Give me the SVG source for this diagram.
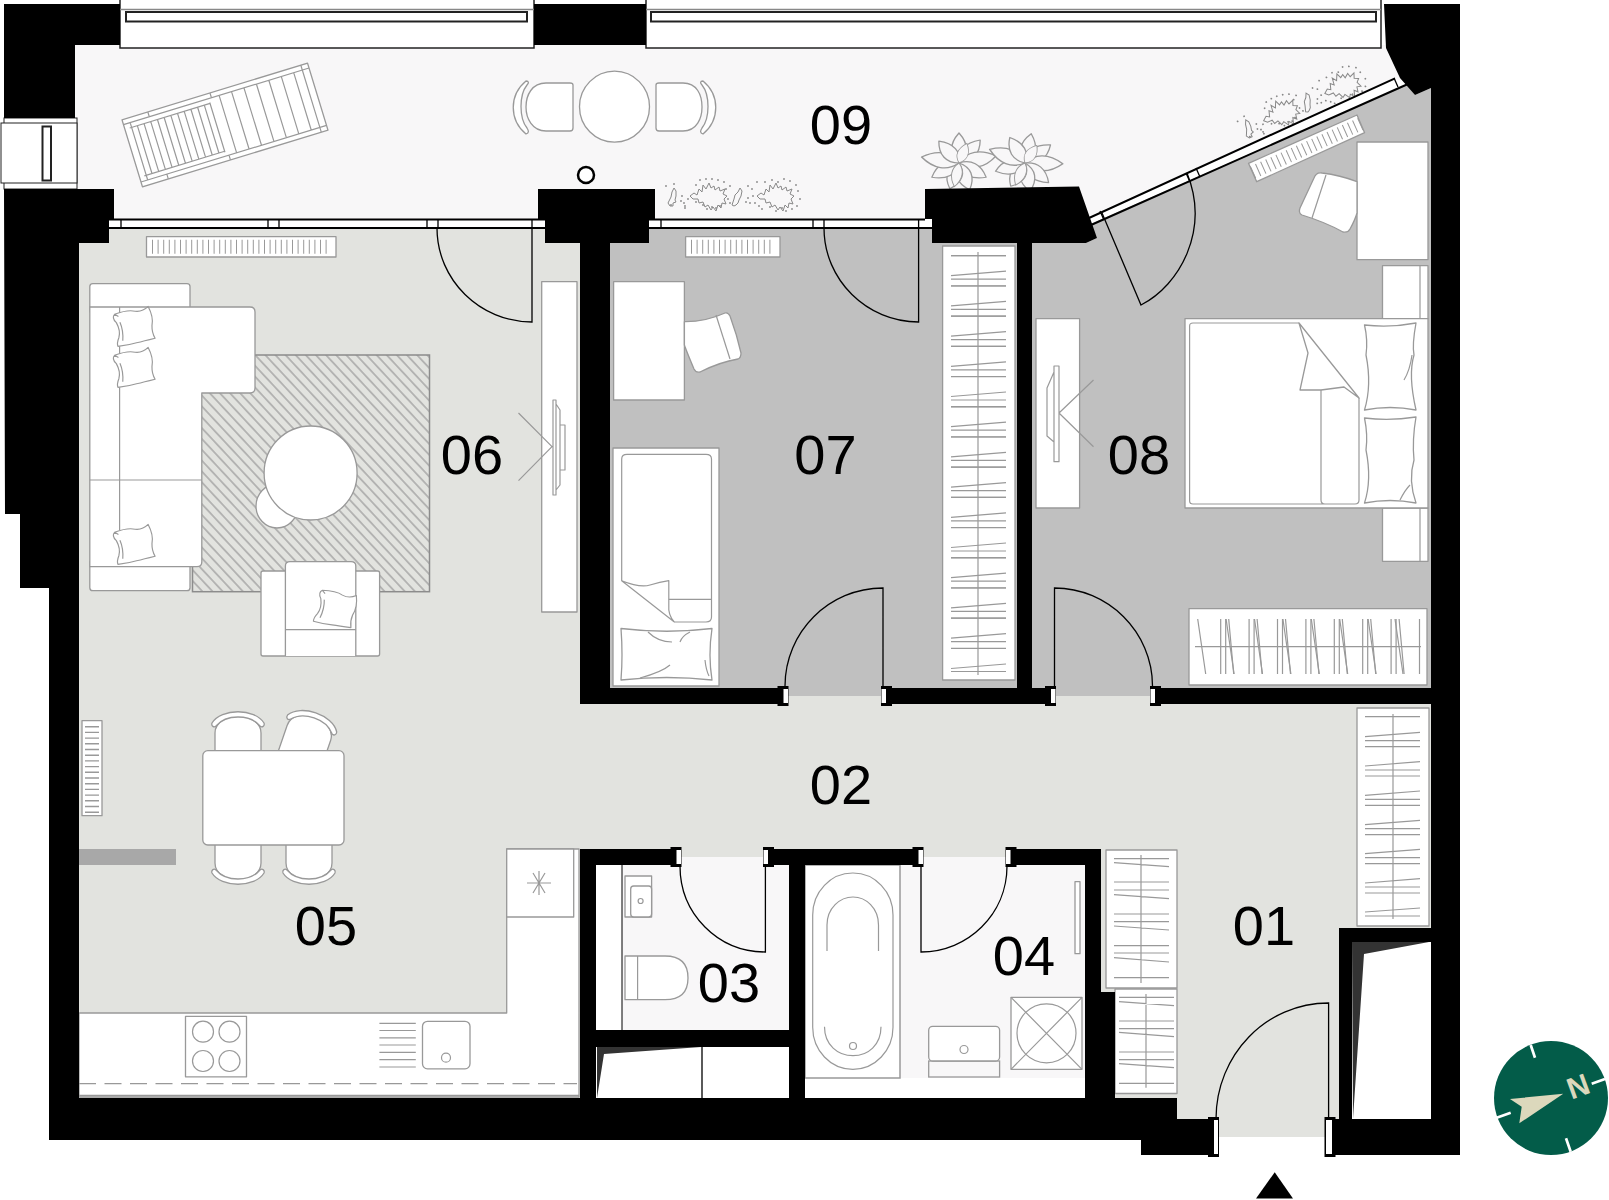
<svg xmlns="http://www.w3.org/2000/svg" xmlns:xlink="http://www.w3.org/1999/xlink" width="1609" height="1200" viewBox="0 0 1609 1200">
<style>
.f{fill:#fff;stroke:#999;stroke-width:1.3;stroke-linejoin:round}
.n{fill:none;stroke:#999;stroke-width:1.2;stroke-linejoin:round}
.w{fill:#000}
.d{fill:none;stroke:#000;stroke-width:1.3}
.s{fill:none;stroke:#000;stroke-width:2}
.h{fill:none;stroke:#999;stroke-width:1.2}
.t{fill:#000;font-family:"Liberation Sans",Arial,sans-serif;font-size:56px;text-anchor:middle}
</style>
<defs>
<pattern id="rug" width="7.4" height="7.4" patternUnits="userSpaceOnUse" patternTransform="rotate(47)"><rect width="7.4" height="7.4" fill="#e2e3df"/><line x1="0" y1="3.7" x2="7.4" y2="3.7" stroke="#999" stroke-width="1.200"/></pattern>
<path id="pillow" class="f" d="M-19,-16Q-4,-20 4,-17Q12,-15 19,-21Q24,-8 21,2Q20,10 23,17Q10,19 2,20Q-8,22 -19,22Q-20,18 -17,12Q-14,4 -18,-6Q-23,-12 -19,-16ZM-14,-6Q-11,4 -13,16M-19,-16L-15,-13"/>
<g id="jamb"><rect class="w" x="0" y="0" width="11" height="20"/><rect x="6" y="3" width="4.500" height="14" fill="#fff"/></g>
<g id="chair"><path class="f" d="M-23,10V-18C-23,-29 -11,-35 0,-35C11,-35 23,-29 23,-18V10"/><path class="f" d="M-26,-28C-17,-43 17,-43 26,-28C27,-25 24,-23 22,-25C12,-37 -12,-37 -22,-25C-24,-23 -27,-25 -26,-28Z"/></g>
<g id="ha"><path class="h" d="M951,0H1006M951,20L1006,15.500M951,23.500H1006M951,30.300H1006"/></g>
<g id="hc"><path class="h" d="M1365,0L1420,-4.300M1365,4H1420M1365,10H1420"/></g>
<g id="hd"><path class="h" d="M0,0L8,55M23,0V55M28,0V55M31,0L36,55"/></g>
<path id="petal" class="n" style="fill:#f8f7f8" d="M0,0C-9,-8 -9,-19 0,-30C9,-19 9,-8 0,0Z"/>
<g id="flower"><use href="#petal" transform="rotate(0) scale(1,1)"/><use href="#petal" transform="rotate(40) scale(1,1)"/><use href="#petal" transform="rotate(78) scale(1.1,1.15)"/><use href="#petal" transform="rotate(120) scale(1,.95)"/><use href="#petal" transform="rotate(160) scale(1,.95)"/><use href="#petal" transform="rotate(198) scale(1,.9)"/><use href="#petal" transform="rotate(240) scale(1,.95)"/><use href="#petal" transform="rotate(280) scale(1.1,1.15)"/><use href="#petal" transform="rotate(320) scale(1,.95)"/><use href="#petal" transform="rotate(20) scale(.7,.7)"/><use href="#petal" transform="rotate(190) scale(.7,.8)"/></g>
<g id="shrub"><path fill="none" stroke="#888" stroke-width="1" d="M-66,9l3,-6 1,-5 2,-4 2,3 0,5 -1,4 1,2 -3,1 0,3 -3,0zM-44,2l4,-3 3,2 2,-6 3,3 1,-7 3,4 3,-6 2,5 3,-2 1,4 4,-3 1,4 5,-2 -2,5 4,2 -3,3 2,5 -4,-1 -1,5 -3,-3 -2,6 -3,-4 -2,3 -3,-5 -3,2 -2,-5 -4,1 -1,-4 -5,0zM-2,11l2,-6 1,-4 3,-3 2,-4 2,3 -1,5 -2,4 -1,3 -2,2 -2,1zM23,2l4,-3 3,2 2,-6 3,3 1,-7 3,4 3,-6 2,5 3,-2 1,4 4,-3 1,4 5,-2 -2,5 4,2 -3,3 2,5 -4,-1 -1,5 -3,-3 -2,6 -3,-4 -2,3 -3,-5 -3,2 -2,-5 -4,1 -1,-4 -5,0z"/><path d="M-68,-8h0M-60,-10h0M-63,11h0M-52,2h0M-53,7h0M-50,9h0M-49,12h0M-46,5h0M-49,14h0M-38,-9h0M-34,-14h0M-28,-15h0M-22,-15h0M-16,-14h0M-10,-12h0M-8,-5h0M-4,-8h0M-6,5h0M-4,9h0M-14,12h0M-18,14h0M-22,13h0M-27,15h0M-31,11h0M-38,8h0M12,8h0M14,4h0M16,9h0M19,2h0M21,9h0M18,-5h0M14,-8h0M23,-12h0M25,12h0M28,15h0M31,-12h0M38,-14h0M44,-12h0M50,-15h0M56,-13h0M62,-9h0M64,-3h0M66,5h0M63,12h0M58,15h0M52,17h0M48,14h0M42,17h0M36,13h0" fill="none" stroke="#888" stroke-width="1.800" stroke-linecap="round"/></g>
</defs>
<rect width="1609" height="1200" fill="#fff"/>

<g id="room-09"><polygon fill="#f8f7f8" points="75,45 1386,45 1402,80 1085,222 1085,219 75,219"/>
<g id="lounger" transform="translate(225,125) rotate(-17)"><rect class="f" x="-97" y="-35" width="194" height="70"/><path class="n" d="M-97,-30H97M-97,30H97M90,-35V35M-90,-30V30M-8,-26V26M-92,-25H-8M-92,25H-8M-70,-35V-30M-70,30V35M-5,-35V-30M-5,30V35M3,-30V30M16,-30V30M29,-30V30M42,-30V30M55,-30V30M68,-30V30M81,-30V30M-84,-25V25M-77,-25V25M-70,-25V25M-63,-25V25M-56,-25V25M-49,-25V25M-42,-25V25M-35,-25V25M-28,-25V25M-21,-25V25M-14,-25V25"/></g>
<g id="balcony-set"><ellipse class="f" cx="614.500" cy="106.700" rx="35" ry="35.500"/><path class="f" d="M573,85V128Q573,131 570,131H546C532,131 526,118 526,107C526,95 532,83 546,83H570Q573,83 573,85Z"/><path class="f" d="M656,85V128Q656,131 659,131H683C697,131 702,118 702,107C702,95 697,83 683,83H659Q656,83 656,85Z"/><path class="f" d="M526,81C509,95 509,120 526,134C529,133 529,131 527,128C519,118 519,95 527,85C529,83 529,81 526,81Z"/><path class="f" d="M703,81C720,95 720,120 703,134C700,133 700,131 702,128C710,118 710,95 702,85C700,83 700,81 703,81Z"/></g>
<ellipse cx="586" cy="175" rx="8" ry="8" fill="#fff" stroke="#000" stroke-width="2.500"/>
<use href="#shrub" transform="translate(734,194)"/><use href="#shrub" transform="translate(1303,101) rotate(-24)"/>
<use href="#flower" transform="translate(959,163) scale(1.1,1)"/><use href="#flower" transform="translate(1025,163) rotate(12) scale(1.1,1)"/></g>

<g id="room-05-06"><rect x="79" y="228" width="501" height="870" fill="#e2e3df"/>
<path class="f" d="M79,1013H506.700V849H579V1097H79Z" stroke="#999"/>
<path class="f" d="M506.700,849H573.700V917H506.700Z"/>
<path class="n" d="M527,883H551M533,873L545,893M545,873L533,893M539,871V895"/>
<rect class="f" x="185.500" y="1016.300" width="61" height="60.500"/>
<circle class="n" cx="203" cy="1031.700" r="10.500"/><circle class="n" cx="229.500" cy="1031.700" r="10.500"/><circle class="n" cx="203" cy="1061" r="10.500"/><circle class="n" cx="229.500" cy="1061" r="10.500"/>
<rect class="f" x="422.500" y="1021.300" width="47.500" height="47.500" rx="5"/><circle class="n" cx="446" cy="1057.700" r="4.500"/>
<path class="h" d="M379.400,1023.300H415.800M379.400,1030.500H415.800M379.400,1037.800H415.800M379.400,1045H415.800M379.400,1052.300H415.800M379.400,1059.600H415.800M379.400,1067H415.800"/>
<line x1="79" y1="1083.700" x2="577" y2="1083.700" stroke="#999" stroke-width="1.300" stroke-dasharray="17 8.500"/>
<line x1="79" y1="1095.500" x2="579" y2="1095.500" stroke="#999" stroke-width="1.500"/>
<g id="radiator-living"><rect class="f" x="146.500" y="236.700" width="189.500" height="20.300" stroke-width="2"/><line x1="152" y1="246.800" x2="331" y2="246.800" stroke="#999" stroke-width="14" stroke-dasharray="1 4.600"/></g>
<g id="radiator-side"><rect class="f" x="82" y="720.700" width="20" height="95"/><line x1="92" y1="726" x2="92" y2="815" stroke="#999" stroke-width="14" stroke-dasharray="1.400 4.300"/></g>
<rect x="78" y="849" width="98" height="16" fill="#a8a8a8"/>
<rect x="192.500" y="355" width="237" height="236.700" fill="url(#rug)" stroke="#8c8c8c" stroke-width="1.500"/>
<g id="sofa"><rect class="f" x="89.800" y="283.600" width="100.200" height="30" rx="3"/><rect class="f" x="89.800" y="560" width="100.200" height="30.700" rx="3"/><path class="f" d="M89.800,307H250Q255,307 255,312V388Q255,393 250,393H201.800V562Q201.800,566.700 197,566.700H89.800Z"/><path class="n" d="M119.600,307V530M89.800,480H201.800"/><use href="#pillow" transform="translate(133,326) rotate(-6) scale(.9,.85)"/><use href="#pillow" transform="translate(133,367) rotate(-6) scale(.9,.85)"/><use href="#pillow" transform="translate(133,544) rotate(-6) scale(.9,.85)"/></g>
<ellipse class="f" cx="277" cy="506" rx="21" ry="22"/><ellipse class="f" cx="310.600" cy="473" rx="46.500" ry="47"/>
<g id="armchair"><rect class="f" x="261" y="571" width="118.600" height="85" rx="2"/><path class="f" d="M285.400,656V566Q285.400,561.700 290,561.700H351Q355.800,561.700 355.800,566V656"/><path class="n" d="M285.400,629.700H355.800"/><use href="#pillow" transform="translate(335,608) rotate(16) scale(.9,.85)"/></g>
<rect class="f" x="541.700" y="281.700" width="35.300" height="330.300"/>
<path class="n" d="M518.500,413L552,446.700L518.500,480.700M553,400H556V495H553ZM556,404L560,410V485L556,490M560,425H565V470H560"/>
<g id="dining"><use href="#chair" transform="translate(238,751)"/><use href="#chair" transform="translate(303,750) rotate(19)"/><use href="#chair" transform="translate(238,845) scale(1,-1)"/><use href="#chair" transform="translate(309,845) scale(1,-1)"/><rect class="f" x="202.800" y="750.700" width="141.200" height="94.300" rx="5"/></g></g>

<g id="room-07"><rect x="610" y="228" width="407" height="468" fill="#c0c0c0"/>
<g id="radiator-07"><rect class="f" x="685.600" y="236.700" width="94.400" height="20.300" stroke-width="2"/><line x1="691" y1="246.800" x2="775" y2="246.800" stroke="#999" stroke-width="14" stroke-dasharray="1 4.600"/></g>
<rect class="f" x="613.600" y="281.700" width="70.800" height="118.300"/>
<path class="f" d="M684.400,321.700Q705,322 725,313Q728,312 730,316Q737,335 741,353Q741,358 738,359Q720,362 700,372Q696,373 694,369Q686,350 684.400,345Z"/><path class="n" d="M716,315L730,359"/>
<g id="bed-07"><rect class="f" x="613" y="448" width="106" height="238" stroke-width="1.800"/><path class="n" d="M621.700,580.700V459Q621.700,454.300 627,454.300H706Q711.500,454.300 711.500,459V617Q711.500,622 706,622H674M668.800,599.300H711.500"/><path class="n" d="M621.700,580.700Q640,588 650,585Q660,582 668.800,580.700V605Q668,615 674,621.700Z"/><path class="f" d="M621,628.500Q667,634 712,628.500Q708,655 712,680Q667,675 621,680Q623,655 621,628.500Z"/><path class="n" d="M648,632Q658,642 672,642M690,632Q682,636 680,642M640,678Q662,672 670,665M705,660Q706,670 709,676"/></g>
<g id="wardrobe-07"><rect class="f" x="942.600" y="246" width="72.400" height="434" stroke-width="1.800"/><path class="h" d="M978,252V675M951,255.700H1006"/>
<use href="#ha" y="255.700"/><use href="#ha" y="285.900"/><use href="#ha" y="316.100"/><use href="#ha" y="346.300"/><use href="#ha" y="376.500"/><use href="#ha" y="406.700"/><use href="#ha" y="436.900"/><use href="#ha" y="467.100"/><use href="#ha" y="497.300"/><use href="#ha" y="527.500"/><use href="#ha" y="557.700"/><use href="#ha" y="587.900"/><use href="#ha" y="618.100"/><path class="h" d="M951,668.500L1006,664M951,671.500H1006"/></g></g>

<g id="room-08"><polygon fill="#c0c0c0" points="1032,243 1086,243 1097,238 1090,224 1408,84 1415,95 1431,88 1431,696 1032,696"/>
<polygon class="f" points="1248.500,163.300 1357,115 1364.600,132.700 1256.700,181.700"/><line x1="1252.600" y1="172.500" x2="1360.800" y2="123.900" stroke="#999" stroke-width="13" stroke-dasharray="1 4.600"/>
<rect class="f" x="1357" y="142" width="71" height="117.700" stroke-width="1.800"/>
<path class="f" d="M1357,181.700Q1340,175 1322,173Q1316,172 1314,178Q1306,195 1300,208Q1298,213 1302,215Q1325,222 1343,232Q1348,233 1350,229Q1355,220 1357,213Z"/><path class="n" d="M1326,175L1312,218"/>
<rect class="f" x="1036" y="318.700" width="43.600" height="189.300"/>
<path class="n" d="M1093.500,380L1059,413L1093.500,446.700M1054,366H1059V461.700H1054ZM1054,372L1047,388V436L1054,442"/>
<g id="bed-08"><rect class="f" x="1382.500" y="265.700" width="45.500" height="53"/><rect class="f" x="1382.500" y="508" width="45.500" height="53.300"/><path class="n" d="M1420,265.700V318.700M1420,508V561.300"/><rect class="f" x="1185" y="318.700" width="243" height="189.300" stroke-width="1.800"/><path class="n" d="M1299,323H1193Q1189.600,323 1189.600,326V501Q1189.600,504 1193,504H1355Q1359,504 1359,500V398M1321,390V500Q1321,504 1325,504"/><path class="f" d="M1299,323L1308,353L1300,390H1321L1344,387L1359,398Z"/><path class="f" d="M1364.500,325Q1390,328 1416,323Q1412,345 1414,355Q1408,375 1416,410Q1390,405 1364.500,410Q1372,385 1366,355Q1368,340 1364.500,325Z"/><path class="f" d="M1364.500,418Q1390,421 1416,417Q1412,440 1414,460Q1408,480 1416,503Q1390,498 1364.500,503Q1372,480 1366,450Q1368,435 1364.500,418Z"/><path class="n" d="M1400,500Q1405,490 1410,485M1404,380Q1410,370 1412,355"/></g>
<g id="wardrobe-08"><rect class="f" x="1189" y="608.700" width="238" height="76.300" stroke-width="1.500"/><path class="h" d="M1195,646.700H1421M1419.500,619V674"/>
<use href="#hd" transform="translate(1197.700,619)"/><use href="#hd" transform="translate(1226.100,619)"/><use href="#hd" transform="translate(1254.500,619)"/><use href="#hd" transform="translate(1282.900,619)"/><use href="#hd" transform="translate(1311.300,619)"/><use href="#hd" transform="translate(1339.700,619)"/><use href="#hd" transform="translate(1368.100,619)"/><path class="h" d="M1395,619L1403,674"/></g></g>

<g id="room-02-01"><rect x="580" y="696" width="598" height="161" fill="#e2e3df"/><rect x="1100" y="704" width="331" height="224" fill="#e2e3df"/><rect x="1100" y="928" width="239" height="209" fill="#e2e3df"/>
<g id="wardrobe-01"><rect class="f" x="1357" y="708" width="72" height="218" stroke-width="1.800"/><path class="h" d="M1393,714V919M1365,716.700H1420"/>
<use href="#hc" y="736.700"/><use href="#hc" y="766"/><use href="#hc" y="795.300"/><use href="#hc" y="824.700"/><use href="#hc" y="853.700"/><use href="#hc" y="883"/><path class="h" d="M1365,912L1420,908M1365,916H1420"/></g>
<g id="wardrobe-a"><rect class="f" x="1106" y="850" width="71" height="138" stroke-width="1.500"/><path class="h" d="M1141,855V983M1114,858.700H1169M1114,862.700L1169,866.700M1114,882H1169M1114,890H1169M1114,894.700L1169,898.700M1114,914H1169M1114,921.700H1169M1114,926L1169,930M1114,945.700H1169M1114,953H1169M1114,957.700L1169,962M1114,977.700H1169"/></g>
<g id="wardrobe-b"><rect class="f" x="1115" y="989" width="62" height="104.500" stroke-width="1.500"/><path class="h" d="M1146,994V1087.700M1119,997.300H1174M1119,1001.700L1174,1005.700M1119,1021H1174M1119,1028.700H1174M1119,1032.300L1174,1036.700M1119,1052H1174M1119,1059.700H1174M1119,1063.700L1174,1067.700M1119,1083.300H1174"/></g></g>

<g id="room-03"><rect x="596" y="865" width="193" height="165" fill="#fff"/><rect x="622" y="865" width="167" height="165" fill="#f8f7f8"/><rect x="681" y="857" width="84" height="9" fill="#f8f7f8"/><line x1="622" y1="865" x2="622" y2="1030" stroke="#000" stroke-width="1"/>
<rect class="f" x="625" y="876" width="26.600" height="41"/><rect class="f" x="630.700" y="886" width="20.900" height="31" rx="3"/><circle class="n" cx="640.600" cy="901" r="2.500"/>
<path class="f" d="M625,956H665Q688,956 688,978Q688,999.700 665,999.700H625Z"/><path class="n" d="M637.600,956V999.700"/>
<rect x="596" y="1047" width="193" height="51" fill="#fff"/><polygon fill="#333" points="597,1047 701,1047 604,1054 597,1098"/><line x1="702" y1="1047" x2="702" y2="1098" stroke="#000" stroke-width="1.300"/></g>

<g id="room-04"><rect x="805" y="865" width="280" height="233" fill="#fff"/><rect x="900" y="865" width="185" height="213" fill="#f8f7f8"/><rect x="923" y="857" width="84" height="9" fill="#f8f7f8"/><rect x="805" y="865" width="95" height="213" fill="#fff" stroke="#999" stroke-width="1.500"/>
<rect class="n" x="812.700" y="873" width="80.300" height="196.300" rx="40" ry="42"/><path class="n" d="M827,951V925C827,908 840,897 853,897C866,897 878.500,908 878.500,925V951M824.500,1026.700C824.500,1045 838,1055.700 853,1055.700C868,1055.700 881,1045 881,1026.700"/><circle class="n" cx="853" cy="1046" r="3.500"/>
<rect class="f" x="1075" y="881.700" width="5" height="72"/>
<rect class="f" x="1011" y="997.300" width="71" height="72"/><circle class="n" cx="1046.500" cy="1033.300" r="29.500"/><path class="n" d="M1011,997.300L1082,1069.300M1082,997.300L1011,1069.300"/>
<rect x="928.700" y="1061" width="70.900" height="16" fill="#f8f7f8" stroke="#999" stroke-width="1.300"/><rect class="f" x="928.700" y="1026.300" width="70.900" height="34.700" rx="4"/><circle class="n" cx="964" cy="1049.500" r="4"/></g>

<g id="windows">
<g fill="#fff" stroke="#222" stroke-width="1.500"><rect x="120" y="-1" width="414" height="49"/><rect x="646" y="-1" width="735" height="49"/><path d="M120,9.500H534M646,9.500H1381" fill="none" stroke="#888"/><rect x="126" y="12" width="401" height="9.500" stroke-width="2"/><rect x="651" y="12" width="725" height="9.500" stroke-width="2"/></g>
<rect x="4" y="118" width="73" height="71" fill="#fff" stroke="#222" stroke-width="1"/><rect x="1" y="123" width="76" height="60" fill="#fff" stroke="#222" stroke-width="1"/><rect x="42.500" y="126.500" width="8.500" height="54" fill="#fff" stroke="#222" stroke-width="2"/>
<rect x="109" y="219" width="436" height="9" fill="#fff"/><rect x="649" y="219" width="276" height="9" fill="#fff"/>
<path class="s" d="M109,219.500H545M109,228H545M649,219.500H925M649,228H932"/>
<path class="d" d="M121,219V228M268,219V228M279,219V228M427,219V228M438,219V228M532,219V228M661,219V228M813,219V228M824,219V228M918.600,219V228"/>
<polygon fill="#fff" points="1087,217 1395,78.300 1408,84 1090,224"/>
<path class="s" d="M1089,218L1395,78.300M1091,225L1408,84"/>
<path class="d" d="M1100,211L1104,220M1186,173L1190,182M1196,168L1200,177M1394,78L1398,87"/></g>

<g id="walls" class="w">
<polygon points="4,4 120,4 120,45 75,45 75,118 4,118"/>
<rect x="534" y="4" width="112" height="41"/>
<polygon points="1384,4 1460,4 1460,88 1431,88 1415,95 1400,78 1386,48"/>
<rect x="1431" y="4" width="29" height="1151"/>
<polygon points="4,189 114,189 114,219 109,219 109,243 79,243 79,1140 49,1140 49,588 20,588 20,514 5,514"/>
<polygon points="538,189 655,189 655,219 649,219 649,243 610,243 610,704 580,704 580,243 545,243 545,219 538,219"/>
<polygon points="925,189 1079,186.500 1097,238 1086,243 1032,243 1032,688 1017,688 1017,243 932,243 932,219 925,219"/>
<rect x="580" y="688" width="198" height="16"/><rect x="887" y="688" width="164" height="16"/><rect x="1155" y="688" width="276" height="16"/>
<rect x="580" y="849" width="93" height="16"/><rect x="773" y="849" width="140" height="16"/><rect x="1010" y="849" width="91" height="16"/>
<rect x="580" y="849" width="16" height="249"/><rect x="789" y="865" width="16" height="233"/><rect x="596" y="1030" width="209" height="17"/>
<rect x="1085" y="849" width="16" height="143"/><rect x="1085" y="992" width="30" height="106"/>
<rect x="49" y="1098" width="1128" height="42"/>
<polygon points="1177,1098 1177,1119 1216,1119 1216,1155 1141,1155 1141,1134 1177,1134"/>
<rect x="1326" y="1119" width="134" height="36"/>
<polygon points="1339,928 1431,928 1431,942 1352,942 1352,1119 1339,1119"/>
</g>
<g id="closet"><polygon fill="#fff" points="1352,942 1429,942 1429,1119 1353,1119"/><polygon fill="#333" points="1352,942 1429,942 1364,954 1353,1119"/></g>

<g id="doors">
<use href="#jamb" x="777.500" y="686"/><use href="#jamb" transform="translate(892,686) scale(-1,1)"/><use href="#jamb" x="1045" y="686"/><use href="#jamb" transform="translate(1161,686) scale(-1,1)"/>
<use href="#jamb" x="670.500" y="847"/><use href="#jamb" transform="translate(774,847) scale(-1,1)"/><use href="#jamb" x="912.500" y="847"/><use href="#jamb" transform="translate(1016.500,847) scale(-1,1)"/>
<rect class="w" x="1208" y="1117" width="11" height="40"/><rect x="1214" y="1120" width="4" height="34" fill="#fff"/><rect class="w" x="1324.500" y="1117" width="11" height="40"/><rect x="1326" y="1120" width="6" height="34" fill="#fff"/>
<path class="d" d="M437,228C437,280 480,322 532,322V228"/><path class="d" d="M824,228C824,280 867,322 918.600,322V228"/>
<path class="d" d="M1102,213L1141,305C1180,285 1210,230 1187,173"/>
<path class="d" d="M785,686C785,632 829,588 883,588V686"/><path class="d" d="M1152.500,686C1152.500,632 1108,588 1054.500,588V686"/>
<path class="d" d="M680,866C680,914 718,952 765.400,952V866"/><path class="d" d="M1007,866C1007,914 968,952 921,952V866"/>
<path class="d" d="M1216,1119C1216,1055 1266,1003 1328.600,1003V1119"/></g>

<g id="labels">
<text class="t" x="326" y="945">05</text><text class="t" x="472" y="474">06</text><text class="t" x="825.500" y="474">07</text><text class="t" x="1139" y="474">08</text><text class="t" x="841" y="144">09</text><text class="t" x="841" y="804">02</text><text class="t" x="729" y="1002">03</text><text class="t" x="1024" y="975">04</text><text class="t" x="1264" y="945">01</text></g>

<polygon id="entrance" fill="#000" points="1274.700,1172.300 1256,1198.500 1293,1198.500"/>
<g id="compass"><circle cx="1551" cy="1098" r="57" fill="#035c49"/><path d="M1530.700,1045L1535,1057.700M1605,1079L1591.700,1083.700M1566,1138.300L1570.700,1151.700M1496.700,1117.700L1510.700,1112.700" stroke="#fff" stroke-width="2.700" fill="none"/><polygon fill="#dcd8bc" points="1563.300,1093.700 1510,1099 1521.700,1106.700 1519.300,1123.300"/><text x="1578" y="1096.700" transform="rotate(-20 1578 1086)" fill="#dcd8bc" font-family="Liberation Sans,Arial,sans-serif" font-size="30" font-weight="bold" text-anchor="middle">N</text></g>
</svg>
